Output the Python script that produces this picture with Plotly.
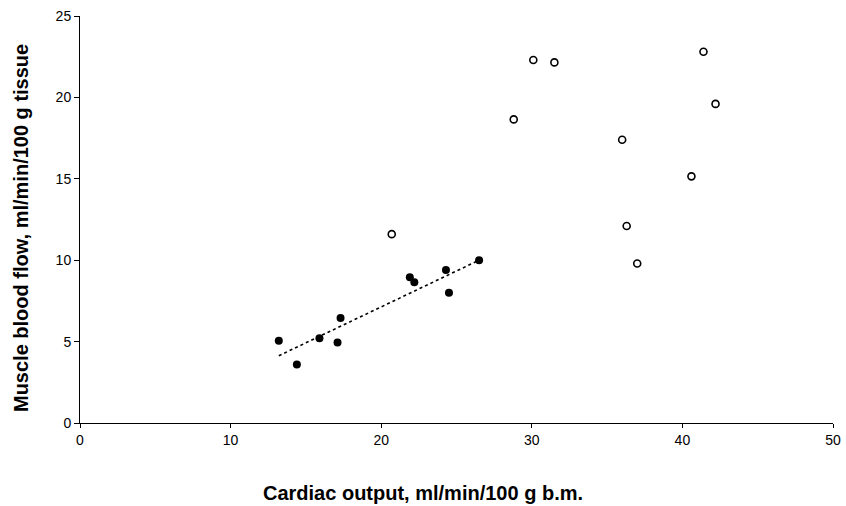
import plotly.graph_objects as go

# Filled circles (regression group)
filled_x = [13.2, 14.4, 15.9, 17.1, 17.3, 21.9, 22.2, 24.3, 24.5, 26.5]
filled_y = [5.05, 3.6, 5.2, 4.95, 6.45, 8.95, 8.65, 9.4, 8.0, 10.0]

# Open circles
open_x = [20.7, 28.8, 30.1, 31.5, 36.0, 36.3, 37.0, 40.6, 41.4, 42.2]
open_y = [11.6, 18.65, 22.3, 22.15, 17.4, 12.1, 9.8, 15.15, 22.8, 19.6]

# Dotted trend line endpoints
trend_x = [13.2, 26.5]
trend_y = [4.13, 10.0]

x_ticks = [0, 10, 20, 30, 40, 50]
y_ticks = [0, 5, 10, 15, 20, 25]

x_title = "Cardiac output, ml/min/100 g b.m."
y_title = "Muscle blood flow, ml/min/100 g tissue"

fig = go.Figure()
fig.add_trace(go.Scatter(x=trend_x, y=trend_y, mode="lines",
                         line=dict(color="black", width=1.6, dash="dot"),
                         hoverinfo="skip", showlegend=False))
fig.add_trace(go.Scatter(x=filled_x, y=filled_y, mode="markers",
                         marker=dict(symbol="circle", size=8, color="black"),
                         showlegend=False))
fig.add_trace(go.Scatter(x=open_x, y=open_y, mode="markers",
                         marker=dict(symbol="circle-open", size=7, color="black",
                                     line=dict(width=1.6, color="black")),
                         showlegend=False))

font_family = "Liberation Sans, Arial, sans-serif"
fig.update_layout(
    width=846, height=506,
    margin=dict(l=80, r=13, t=16, b=83),
    paper_bgcolor="white", plot_bgcolor="white",
    font=dict(family=font_family, color="black", size=13),
    xaxis=dict(range=[0, 50], tickvals=x_ticks, ticks="outside", ticklen=4,
               tickcolor="black", showline=True, linecolor="black", linewidth=1,
               showgrid=False, zeroline=False, tickfont=dict(size=14),
               automargin=False, ticklabeloverflow="allow"),
    yaxis=dict(range=[0, 25], tickvals=y_ticks, ticks="outside", ticklen=5,
               tickcolor="black", showline=True, linecolor="black", linewidth=1,
               showgrid=False, zeroline=False, tickfont=dict(size=14),
               automargin=False, ticklabeloverflow="allow"),
    annotations=[
        dict(text="<b>" + x_title + "</b>", xref="paper", yref="paper",
             x=0.4555, y=-0.172, xanchor="center", yanchor="middle",
             showarrow=False, font=dict(size=20)),
        dict(text="<b>" + y_title + "</b>", xref="paper", yref="paper",
             x=-0.0784, y=0.479, xanchor="center", yanchor="middle",
             textangle=-90, showarrow=False, font=dict(size=20)),
    ],
)

fig.write_html("out.html",
               config={"displayModeBar": False},
               post_script="document.body.style.margin='0';document.body.style.overflow='hidden';")
